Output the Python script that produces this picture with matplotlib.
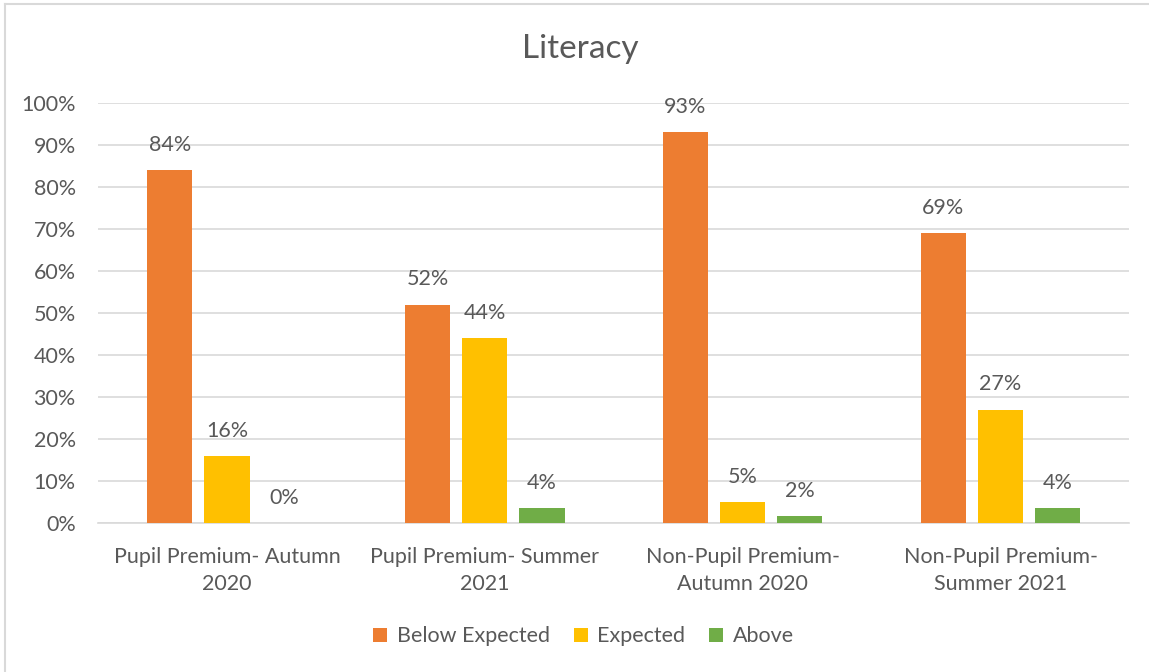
import matplotlib.pyplot as plt
import numpy as np

plt.rcParams['font.family'] = ['Lato', 'DejaVu Sans']

categories = ["Pupil Premium- Autumn\n2020", "Pupil Premium- Summer\n2021",
              "Non-Pupil Premium-\nAutumn 2020", "Non-Pupil Premium-\nSummer 2021"]
below_expected = [0.84, 0.52, 0.93, 0.69]
expected = [0.16, 0.44, 0.05, 0.27]
above = [0.0, 0.036, 0.017, 0.036]
series_names = ["Below Expected", "Expected", "Above"]
colors = ["#ED7D31", "#FFC000", "#70AD47"]

txt = "#595959"
grid = "#D9D9D9"
fs = 15.5

fig = plt.figure(figsize=(11.49, 6.72), dpi=100)
ax = fig.add_axes([0.0853, 0.2217, 0.8977, 0.625])

x = np.arange(len(categories))
width = 0.175
offsets = [-0.222, 0.0, 0.222]
for vals, name, col, off in zip([below_expected, expected, above], series_names, colors, offsets):
    bars = ax.bar(x + off, vals, width, color=col, label=name, zorder=3)
    for b, v in zip(bars, vals):
        ax.text(b.get_x() + b.get_width() / 2, v + 0.036, f"{round(v * 100):.0f}%",
                ha="center", va="bottom", fontsize=fs, color=txt)

ax.set_xlim(-0.5, len(categories) - 0.5)
ax.set_ylim(0, 1)
ax.set_yticks(np.arange(0, 1.01, 0.1))
ax.set_yticklabels([f"{int(round(t * 100))}%" for t in np.arange(0, 1.01, 0.1)])
ax.yaxis.grid(True, color=grid, linewidth=1.2, zorder=0)
ax.set_xticks(x)
ax.set_xticklabels(categories, linespacing=1.45)
ax.tick_params(axis="both", length=0, labelsize=fs, colors=txt)
ax.tick_params(axis="x", pad=17)
ax.tick_params(axis="y", pad=16)
for s in ["top", "right", "left"]:
    ax.spines[s].set_visible(False)
ax.spines["bottom"].set_color(grid)
ax.spines["bottom"].set_linewidth(1.2)

fig.text(0.505, 0.927, "Literacy", ha="center", va="center", fontsize=24, color=txt)

fig.legend(loc="center", bbox_to_anchor=(0.508, 0.053), ncol=3, frameon=False,
           fontsize=fs, labelcolor=txt, handlelength=0.65, handleheight=0.65,
           columnspacing=1.1, handletextpad=0.45)

# chart border
fig.add_artist(plt.Line2D([0.0045, 1.0], [0.994, 0.994], color=grid, linewidth=1.5))
fig.add_artist(plt.Line2D([0.0045, 0.0045], [0.0, 0.994], color=grid, linewidth=1.5))

fig.savefig("out.png", dpi=100)
